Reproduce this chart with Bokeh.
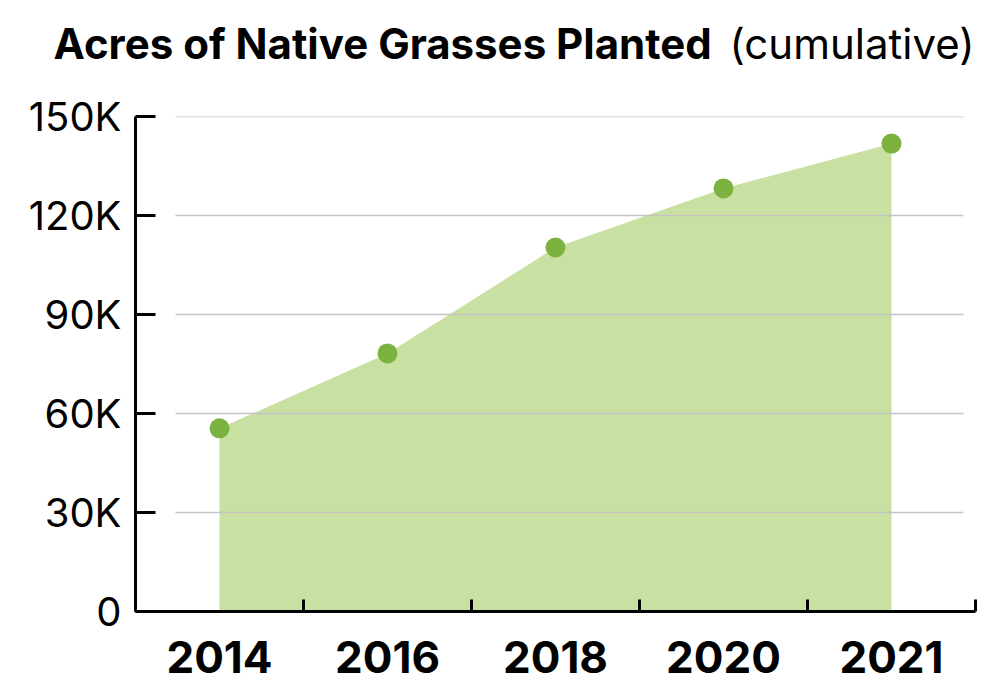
from bokeh.plotting import figure
from bokeh.models import FixedTicker, Range1d, Label
from bokeh.layouts import column
from bokeh.embed import file_html
from bokeh.resources import INLINE

years = ["2014", "2016", "2018", "2020", "2021"]
acres = [55500, 78200, 110300, 128200, 141800]
y_ticks = [0, 30000, 60000, 90000, 120000, 150000]
y_tick_labels = ["0", "30K", "60K", "90K", "120K", "150K"]
title_main = "Acres of Native Grasses Planted"
title_sub = "(cumulative)"

xs = list(range(len(years)))
FONT = "Inter"

# ---- title strip ----
tf = figure(width=984, height=90, output_backend="svg", toolbar_location=None,
            x_range=Range1d(0, 1), y_range=Range1d(0, 1),
            x_axis_location=None, y_axis_location=None,
            min_border=0)
tf.frame_align = False
tf.outline_line_color = None
tf.xgrid.visible = False
tf.ygrid.visible = False
tf.add_layout(Label(x=53, y=47, x_units="screen", y_units="screen",
                    text=title_main, text_font=FONT, text_font_style="bold",
                    text_font_size="42px", text_color="black",
                    text_baseline="alphabetic"))
tf.add_layout(Label(x=729, y=47, x_units="screen", y_units="screen",
                    text=title_sub, text_font=FONT, text_font_style="normal",
                    text_font_size="42px", text_color="black",
                    text_baseline="alphabetic"))

# ---- main chart ----
p = figure(width=984, height=599, output_backend="svg", toolbar_location=None,
           x_range=Range1d(-0.5, len(years) - 0.5), y_range=Range1d(0, 150000),
           min_border_left=135, min_border_right=9, min_border_top=26, min_border_bottom=78)
p.frame_align = False
p.outline_line_color = None
p.xgrid.visible = False
p.ygrid.visible = False

p.varea(x=xs, y1=[0] * len(xs), y2=acres, fill_color="#c9e0a3", fill_alpha=1.0)

p.segment(x0=[-0.262] * len(y_ticks[1:]), x1=[len(years) - 0.5 - 0.072] * len(y_ticks[1:]),
          y0=y_ticks[1:], y1=y_ticks[1:], line_color="#c4c4c4", line_width=1.6)

p.scatter(x=xs, y=acres, size=20, fill_color="#7cb240", line_color=None)

ya = p.yaxis[0]
ya.ticker = FixedTicker(ticks=y_ticks)
ya.major_label_overrides = {t: l for t, l in zip(y_ticks, y_tick_labels)}
ya.major_tick_in = 20
ya.major_tick_out = 0
ya.minor_tick_line_color = None
ya.axis_line_width = 3
ya.major_tick_line_width = 3
ya.axis_line_color = "black"
ya.major_tick_line_color = "black"
ya.major_label_text_font = FONT
ya.major_label_text_font_size = "40px"
ya.major_label_text_color = "black"
ya.major_label_standoff = 14

xa = p.xaxis[0]
xa.ticker = FixedTicker(ticks=xs, minor_ticks=[i - 0.5 for i in range(len(years) + 1)])
xa.major_label_overrides = {i: y for i, y in zip(xs, years)}
xa.major_tick_in = 0
xa.major_tick_out = 0
xa.minor_tick_in = 12
xa.minor_tick_out = 0
xa.minor_tick_line_width = 3
xa.minor_tick_line_color = "black"
xa.axis_line_width = 3
xa.axis_line_color = "black"
xa.major_label_text_font = FONT
xa.major_label_text_font_style = "bold"
xa.major_label_text_font_size = "44px"
xa.major_label_text_line_height = 0.6
xa.major_label_text_color = "black"
xa.major_label_standoff = 29

open("out.html", "w").write(file_html(column(tf, p, spacing=0), INLINE))
